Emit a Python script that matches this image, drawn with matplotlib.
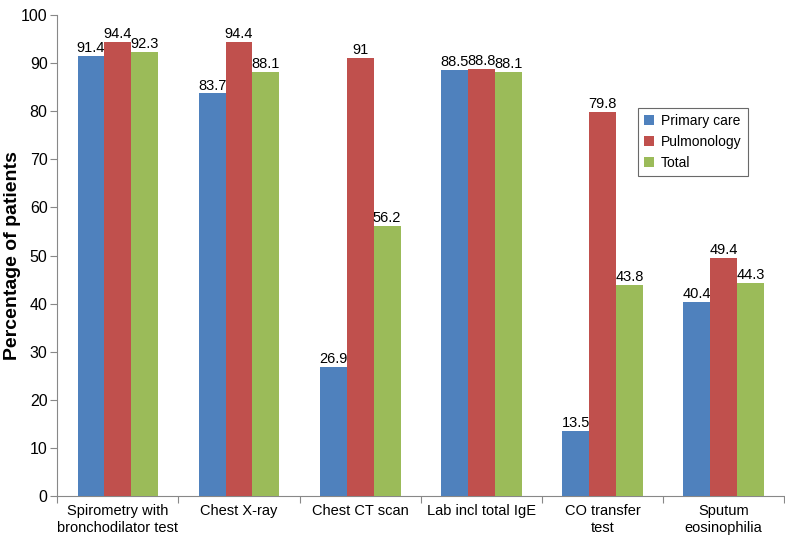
import matplotlib
matplotlib.use("Agg")
import matplotlib.pyplot as plt
import numpy as np

plt.rcParams["font.family"] = ["Liberation Sans", "DejaVu Sans"]

categories = ["Spirometry with\nbronchodilator test", "Chest X-ray", "Chest CT scan",
              "Lab incl total IgE", "CO transfer\ntest", "Sputum\neosinophilia"]
primary_care = [91.4, 83.7, 26.9, 88.5, 13.5, 40.4]
pulmonology = [94.4, 94.4, 91, 88.8, 79.8, 49.4]
total = [92.3, 88.1, 56.2, 88.1, 43.8, 44.3]

series = [("Primary care", primary_care, "#4F81BD"),
          ("Pulmonology", pulmonology, "#C0504D"),
          ("Total", total, "#9BBB59")]

fig = plt.figure(figsize=(7.85, 5.38), dpi=100)
ax = fig.add_axes([0.073, 0.078, 0.926, 0.894])

x = np.arange(len(categories))
bar_w = 0.222
for i, (name, vals, col) in enumerate(series):
    pos = x + (i - 1) * bar_w
    ax.bar(pos, vals, width=bar_w, color=col, label=name, zorder=3)
    for p, v in zip(pos, vals):
        ax.text(p, v + 0.2, f"{v:g}", ha="center", va="bottom", fontsize=10.5)

ax.set_xlim(-0.5, len(categories) - 0.5)
ax.set_ylim(0, 100)
ax.set_yticks(range(0, 101, 10))
ax.set_xticks(np.arange(-0.5, len(categories), 1.0))
ax.set_xticklabels([])
ax.set_xticks(x, minor=True)
ax.set_xticklabels(categories, minor=True, fontsize=10.5)
ax.tick_params(axis="x", which="minor", length=0, pad=6)
ax.tick_params(axis="x", which="major", length=5, color="#888888")
ax.tick_params(axis="y", length=5, color="#888888", labelsize=11.5, pad=2)

ax.spines[["top", "right"]].set_visible(False)
ax.spines["left"].set_color("#888888")
ax.spines["bottom"].set_color("#888888")

ax.set_ylabel("Percentage of patients", fontsize=14, fontweight="bold")
ax.yaxis.set_label_coords(-0.05, 0.5)

leg = ax.legend(loc="upper left", bbox_to_anchor=(0.799, 0.807), fontsize=10,
                fancybox=False, edgecolor="#444444", handlelength=0.7,
                handleheight=0.7, handletextpad=0.5, borderpad=0.45,
                labelspacing=0.5, borderaxespad=0)
leg.get_frame().set_linewidth(0.8)

fig.savefig("out.png", dpi=100)
